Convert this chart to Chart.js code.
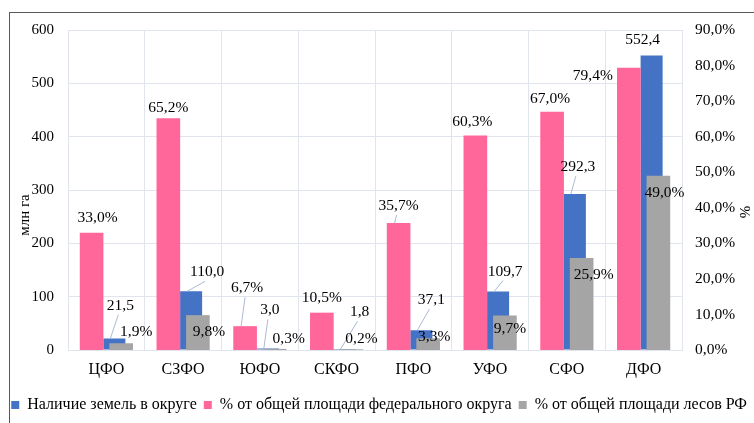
<!DOCTYPE html>
<html>
<head>
<meta charset="utf-8">
<script src="https://cdn.jsdelivr.net/npm/chart.js@4.4.1/dist/chart.umd.min.js"></script>
<style>
  body { margin: 0; background: #fff; }
  #wrap { position: relative; width: 754px; height: 423px; overflow: hidden; }
  #frame { position: absolute; left: 9px; top: 12px; width: 800px; height: 500px;
           border-left: 1px solid #595959; border-top: 1px solid #595959; }
  canvas { position: absolute; left: 0; top: 0; }
</style>
</head>
<body>
<div id="wrap">
  <div id="frame"></div>
  <canvas id="chart" width="754" height="423"></canvas>
</div>
<script>
// chart data
const districts = ["ЦФО", "СЗФО", "ЮФО", "СКФО", "ПФО", "УФО", "СФО", "ДФО"];
const landArea = [21.5, 110.0, 3.0, 1.8, 37.1, 109.7, 292.3, 552.4];      // млн га
const shareOfDistrict = [33.0, 65.2, 6.7, 10.5, 35.7, 60.3, 67.0, 79.4];  // %
const shareOfForests = [1.9, 9.8, 0.3, 0.2, 3.3, 9.7, 25.9, 49.0];        // %
const leftTicks = [0, 100, 200, 300, 400, 500, 600];
const rightTicks = [0, 10, 20, 30, 40, 50, 60, 70, 80, 90];

const seriesNames = ["Наличие земель в округе", "% от общей площади федерального округа", "% от общей площади лесов РФ"];

// label nudges (dx, dy from top of bar), like the hand-placed labels in the original
const landLabelPos = [[6,-33],[16,-19],[2,-38],[15,-37],[10,-30],[7,-20],[3,-27],[-9,-15]];
const districtLabelPos = [[6,-15],[0,-10],[2,-38],[0,-15],[0,-17],[-3,-14],[-2,-13],[-36,8]];
const forestLabelPos = [[15,-11],[11,17],[14,-10],[10,-10],[6,-1],[5,13],[12,17],[6,17]];
const landLeaders = [1,1,1,1,1,1,1,0];
const districtLeaders = [0,0,1,0,1,0,0,0];

const FONT = "'Liberation Serif', 'Times New Roman', serif";

function fmt(v){
    return v.toFixed(1).replace(".", ",");
}

// blue bars sit a bit to the right of the pink/grey pair
// (the hidden axis lands a quarter category left by itself, so push it back)
const blueShift = 0.354;
const shiftPlugin = {
    id: "shiftBlue",
    afterLayout(chart){
        const s = chart.scales.x2;
        const d = (s.right - s.left) / districts.length * blueShift;
        s.left += d;
        s.right += d;
        s.configure();
    }
};

const labelsPlugin = {
    id: "barLabels",
    afterDatasetsDraw(chart){
        const ctx = chart.ctx;
        const sets = [
            {ds: 0, pos: landLabelPos, lead: landLeaders, text: v => fmt(v)},
            {ds: 1, pos: districtLabelPos, lead: districtLeaders, text: v => fmt(v) + "%"},
            {ds: 2, pos: forestLabelPos, lead: null, text: v => fmt(v) + "%"}
        ];
        ctx.save();
        ctx.font = "15.5px " + FONT;
        ctx.textAlign = "center";
        ctx.textBaseline = "middle";
        sets.forEach(s => {
            const meta = chart.getDatasetMeta(s.ds);
            const values = chart.data.datasets[s.ds].data;
            meta.data.forEach((bar, i) => {
                const lx = bar.x + s.pos[i][0];
                const ly = bar.y + s.pos[i][1];
                if(s.lead && s.lead[i]){
                    ctx.strokeStyle = "rgb(170,186,214)";
                    ctx.lineWidth = 1;
                    ctx.beginPath();
                    ctx.moveTo(bar.x - 4, bar.y);
                    ctx.lineTo(lx - 2, ly + 9);
                    ctx.stroke();
                }
                ctx.fillStyle = "#000";
                ctx.fillText(s.text(values[i]), lx, ly);
            });
        });
        ctx.restore();
    }
};

// axis titles, drawn by hand so they can sit where Excel put them
const axisTitles = {
    id: "axisTitles",
    afterDraw(chart){
        const ctx = chart.ctx;
        const titles = [["млн га", 25, 215], ["%", 746, 212]];
        titles.forEach(t => {
            ctx.save();
            ctx.font = "15px " + FONT;
            ctx.fillStyle = "#000";
            ctx.textAlign = "center";
            ctx.textBaseline = "middle";
            ctx.translate(t[1], t[2]);
            ctx.rotate(-Math.PI / 2);
            ctx.fillText(t[0], 0, 0);
            ctx.restore();
        });
    }
};

const gridColor = "rgb(224,228,236)";

new Chart(document.getElementById("chart"), {
    type: "bar",
    data: {
        labels: districts,
        datasets: [
            {
                label: seriesNames[0],
                data: landArea,
                backgroundColor: "#4472C4",
                xAxisID: "x2",
                yAxisID: "y",
                order: 1,
                categoryPercentage: 1,
                barPercentage: 0.574
            },
            {
                label: seriesNames[1],
                data: shareOfDistrict,
                backgroundColor: "#FF6699",
                xAxisID: "x",
                yAxisID: "y1",
                order: 0,
                categoryPercentage: 1.54,
                barPercentage: 0.8
            },
            {
                label: seriesNames[2],
                data: shareOfForests,
                backgroundColor: "#A5A5A5",
                xAxisID: "x",
                yAxisID: "y1",
                order: 0,
                categoryPercentage: 1.54,
                barPercentage: 0.8
            }
        ]
    },
    options: {
        responsive: false,
        animation: false,
        layout: { padding: { left: 0, right: 0, top: 30, bottom: 0 } },
        plugins: {
            tooltip: { enabled: false },
            legend: {
                position: "bottom",
                align: "end",
                labels: {
                    sort: (a, b) => a.datasetIndex - b.datasetIndex,
                    font: { family: FONT, size: 16 },
                    color: "#000",
                    boxWidth: 8,
                    boxHeight: 8,
                    padding: 7
                }
            }
        },
        scales: {
            x: {
                grid: { color: gridColor, drawTicks: false },
                border: { color: gridColor },
                ticks: { font: { family: FONT, size: 16 }, color: "#000", padding: 10 },
                afterFit: s => { s.height = 40; }
            },
            x2: {
                display: false,
                type: "category"
            },
            y: {
                position: "left",
                min: 0,
                max: leftTicks[leftTicks.length - 1],
                afterBuildTicks: s => { s.ticks = leftTicks.map(v => ({value: v})); },
                grid: { color: gridColor, drawTicks: false },
                border: { display: false },
                ticks: { font: { family: FONT, size: 15 }, color: "#000", padding: 14 },
                afterFit: s => { s.width = 68; }
            },
            y1: {
                position: "right",
                min: 0,
                max: rightTicks[rightTicks.length - 1],
                afterBuildTicks: s => { s.ticks = rightTicks.map(v => ({value: v})); },
                grid: { display: false },
                border: { display: false },
                ticks: {
                    font: { family: FONT, size: 15.5 },
                    color: "#000",
                    padding: 5,
                    callback: v => fmt(v) + "%"
                },
                afterFit: s => { s.width = 72; }
            }
        }
    },
    plugins: [shiftPlugin, labelsPlugin, axisTitles]
});
</script>
</body>
</html>
